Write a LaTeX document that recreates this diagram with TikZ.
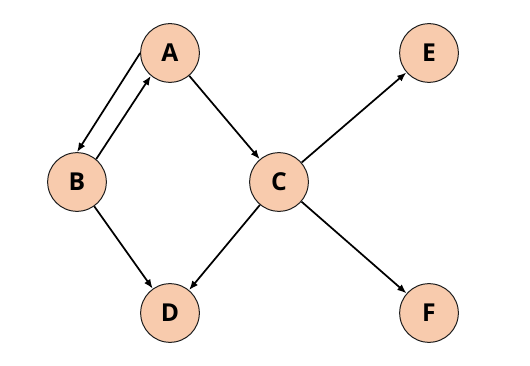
\documentclass[tikz,border=0pt]{standalone}
\usepackage{fontspec}
\setmainfont{Open Sans}
\usepackage{tikz}
\usetikzlibrary{arrows.meta}
\definecolor{peach}{RGB}{248,203,173}
\definecolor{rim}{RGB}{30,30,30}

\begin{document}
\begin{tikzpicture}[x=0.75pt,y=-0.75pt,>={Latex[length=7pt,width=5.5pt]},
  vert/.style={circle,draw=rim,line width=0.75pt,fill=peach,minimum size=44pt,
               inner sep=0pt,font=\fontsize{18.5}{18.5}\selectfont\bfseries},
  arr/.style={->,line width=1.3pt,draw=black}]
\useasboundingbox (0,0) rectangle (530,366);
\node[vert] (A) at (170,53) {A};
\node[vert] (B) at (77,182) {B};
\node[vert] (C) at (279,182) {C};
\node[vert] (D) at (170,313) {D};
\node[vert] (E) at (429,53) {E};
\node[vert] (F) at (429,313) {F};
\draw[arr] (A.west)--(B.north);
\draw[arr] (B.50)--(A.230);
\draw[arr] (A)--(C);
\draw[arr] (B)--(D);
\draw[arr] (C)--(D);
\draw[arr] (C)--(E);
\draw[arr] (C)--(F);
\end{tikzpicture}
\end{document}
